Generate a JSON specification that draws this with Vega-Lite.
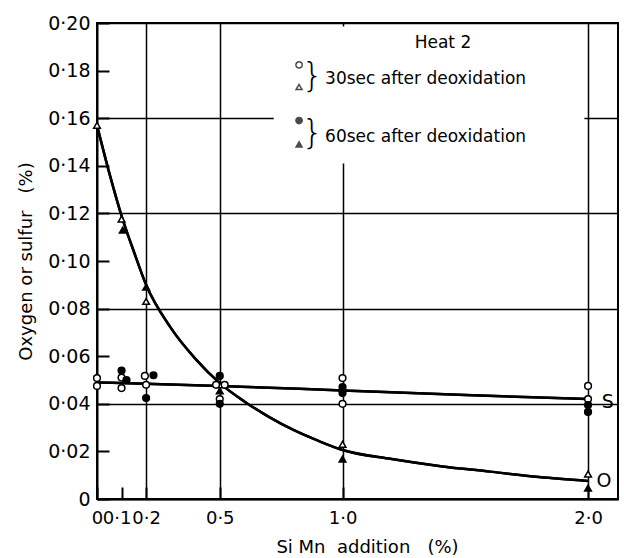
{
  "$schema": "https://vega.github.io/schema/vega-lite/v6.json",
  "width": 521,
  "height": 476,
  "autosize": {"type": "none"},
  "padding": {"left": 97, "top": 23, "right": 6, "bottom": 59},
  "background": "white",
  "config": {
    "font": "DejaVu Sans",
    "view": {"stroke": "black", "strokeWidth": 2},
    "axis": {
      "domainColor": "black", "domainWidth": 2,
      "tickColor": "black", "tickWidth": 2, "tickSize": -12,
      "gridColor": "black", "gridWidth": 1.5,
      "labelColor": "black", "titleColor": "black",
      "titleFontWeight": "normal"
    }
  },
  "datasets": {
    "points": [
      {"x": 0, "value": 0.157, "species": "O", "time": "30 s"},
      {"x": 0.1, "value": 0.1176, "species": "O", "time": "30 s"},
      {"x": 0.2, "value": 0.083, "species": "O", "time": "30 s"},
      {"x": 0.5, "value": 0.048, "species": "O", "time": "30 s"},
      {"x": 1.0, "value": 0.023, "species": "O", "time": "30 s"},
      {"x": 2.0, "value": 0.0105, "species": "O", "time": "30 s"},
      {"x": 0.105, "value": 0.113, "species": "O", "time": "60 s"},
      {"x": 0.2, "value": 0.089, "species": "O", "time": "60 s"},
      {"x": 0.5, "value": 0.0454, "species": "O", "time": "60 s"},
      {"x": 1.0, "value": 0.0168, "species": "O", "time": "60 s"},
      {"x": 2.0, "value": 0.0046, "species": "O", "time": "60 s"},
      {"x": 0, "value": 0.0508, "species": "S", "time": "30 s"},
      {"x": 0, "value": 0.0475, "species": "S", "time": "30 s"},
      {"x": 0.1, "value": 0.051, "species": "S", "time": "30 s"},
      {"x": 0.1, "value": 0.0466, "species": "S", "time": "30 s"},
      {"x": 0.195, "value": 0.0517, "species": "S", "time": "30 s"},
      {"x": 0.2, "value": 0.048, "species": "S", "time": "30 s"},
      {"x": 0.485, "value": 0.048, "species": "S", "time": "30 s"},
      {"x": 0.52, "value": 0.048, "species": "S", "time": "30 s"},
      {"x": 0.5, "value": 0.042, "species": "S", "time": "30 s"},
      {"x": 1.0, "value": 0.0508, "species": "S", "time": "30 s"},
      {"x": 1.0, "value": 0.040, "species": "S", "time": "30 s"},
      {"x": 2.0, "value": 0.0475, "species": "S", "time": "30 s"},
      {"x": 2.0, "value": 0.042, "species": "S", "time": "30 s"},
      {"x": 0.1, "value": 0.054, "species": "S", "time": "60 s"},
      {"x": 0.12, "value": 0.050, "species": "S", "time": "60 s"},
      {"x": 0.23, "value": 0.052, "species": "S", "time": "60 s"},
      {"x": 0.2, "value": 0.0424, "species": "S", "time": "60 s"},
      {"x": 0.5, "value": 0.0517, "species": "S", "time": "60 s"},
      {"x": 0.5, "value": 0.040, "species": "S", "time": "60 s"},
      {"x": 1.0, "value": 0.047, "species": "S", "time": "60 s"},
      {"x": 1.0, "value": 0.0445, "species": "S", "time": "60 s"},
      {"x": 2.0, "value": 0.0395, "species": "S", "time": "60 s"},
      {"x": 2.0, "value": 0.0366, "species": "S", "time": "60 s"}
    ],
    "curves": [
      {"x": 0, "value": 0.157, "curve": "O"},
      {"x": 0.05, "value": 0.137, "curve": "O"},
      {"x": 0.1, "value": 0.119, "curve": "O"},
      {"x": 0.15, "value": 0.104, "curve": "O"},
      {"x": 0.2, "value": 0.090, "curve": "O"},
      {"x": 0.3, "value": 0.072, "curve": "O"},
      {"x": 0.4, "value": 0.059, "curve": "O"},
      {"x": 0.5, "value": 0.0487, "curve": "O"},
      {"x": 0.6, "value": 0.041, "curve": "O"},
      {"x": 0.7, "value": 0.0345, "curve": "O"},
      {"x": 0.8, "value": 0.029, "curve": "O"},
      {"x": 0.9, "value": 0.0245, "curve": "O"},
      {"x": 1.0, "value": 0.0206, "curve": "O"},
      {"x": 1.2, "value": 0.0168, "curve": "O"},
      {"x": 1.4, "value": 0.0138, "curve": "O"},
      {"x": 1.6, "value": 0.0115, "curve": "O"},
      {"x": 1.8, "value": 0.0092, "curve": "O"},
      {"x": 2.0, "value": 0.0076, "curve": "O"},
      {"x": 0, "value": 0.049, "curve": "S"},
      {"x": 0.5, "value": 0.0475, "curve": "S"},
      {"x": 1.0, "value": 0.0456, "curve": "S"},
      {"x": 1.5, "value": 0.0437, "curve": "S"},
      {"x": 2.0, "value": 0.042, "curve": "S"}
    ]
  },
  "layer": [
    {
      "data": {"name": "curves"},
      "mark": {"type": "line", "color": "black", "strokeWidth": 2.5, "interpolate": "monotone"},
      "encoding": {
        "x": {"field": "x", "type": "quantitative",
          "scale": {"domain": [0, 2.122], "nice": false, "zero": false},
          "axis": {
            "values": [0, 0.1, 0.2, 0.5, 1, 2],
            "labelExpr": "datum.value == 0 ? '0' : replace(format(datum.value, '.1f'), '.', '·')",
            "labelFontSize": 18, "labelPadding": 22,
            "labelOverlap": false, "labelFlush": false,
            "labelOffset": {"condition": {"test": "datum.value == 0.1", "value": -5}, "value": 0},
            "grid": true,
            "gridOpacity": {"condition": {"test": "datum.value < 0.15", "value": 0}, "value": 1},
            "title": "Si Mn\u00a0\u00a0addition\u00a0\u00a0\u00a0(%)", "titleFontSize": 18, "titlePadding": 11, "titleX": 270
          }
        },
        "y": {"field": "value", "type": "quantitative",
          "scale": {"domain": [0, 0.2], "nice": false, "zero": false},
          "axis": {
            "values": [0, 0.02, 0.04, 0.06, 0.08, 0.1, 0.12, 0.14, 0.16, 0.18, 0.2],
            "labelExpr": "datum.value == 0 ? '0' : replace(format(datum.value, '.2f'), '.', '·')",
            "labelFontSize": 19, "labelPadding": 19,
            "labelOverlap": false, "labelFlush": false,
            "grid": true,
            "gridOpacity": {"condition": {"test": "abs(datum.value*25 - round(datum.value*25)) > 0.01", "value": 0}, "value": 1},
            "title": "Oxygen or sulfur\u00a0\u00a0\u00a0(%)", "titleFontSize": 18, "titlePadding": 12
          }
        },
        "detail": {"field": "curve"}
      }
    },
    {
      "data": {"values": [{}]},
      "mark": {"type": "rect", "fill": "white"},
      "encoding": {
        "x": {"datum": 0.72, "type": "quantitative"},
        "x2": {"datum": 1.985},
        "y": {"datum": 0.141, "type": "quantitative"},
        "y2": {"datum": 0.1985}
      }
    },
    {
      "data": {"name": "curves"},
      "mark": {"type": "line", "color": "black", "strokeWidth": 2.5, "interpolate": "monotone"},
      "encoding": {
        "x": {"field": "x", "type": "quantitative"},
        "y": {"field": "value", "type": "quantitative"},
        "detail": {"field": "curve"}
      }
    },
    {
      "data": {"name": "points"},
      "mark": {"type": "point", "filled": true, "stroke": "black", "strokeWidth": 1.5, "opacity": 1},
      "encoding": {
        "x": {"field": "x", "type": "quantitative"},
        "y": {"field": "value", "type": "quantitative"},
        "shape": {"field": "species", "type": "nominal", "scale": {"domain": ["O", "S"], "range": ["triangle-up", "circle"]}, "legend": null},
        "fill": {"field": "time", "type": "nominal", "scale": {"domain": ["30 s", "60 s"], "range": ["white", "black"]}, "legend": null},
        "size": {"value": 45}
      }
    },
    {
      "data": {"values": [{}]},
      "mark": {"type": "point", "shape": "circle", "filled": true, "fill": "white", "stroke": "black", "strokeWidth": 1.5, "size": 40},
      "encoding": {"x": {"datum": 0.823, "type": "quantitative"}, "y": {"datum": 0.1824, "type": "quantitative"}}
    },
    {
      "data": {"values": [{}]},
      "mark": {"type": "point", "shape": "triangle-up", "filled": true, "fill": "white", "stroke": "black", "strokeWidth": 1.5, "size": 35},
      "encoding": {"x": {"datum": 0.823, "type": "quantitative"}, "y": {"datum": 0.1731, "type": "quantitative"}}
    },
    {
      "data": {"values": [{}]},
      "mark": {"type": "point", "shape": "circle", "filled": true, "fill": "black", "stroke": "black", "strokeWidth": 1.5, "size": 40},
      "encoding": {"x": {"datum": 0.823, "type": "quantitative"}, "y": {"datum": 0.159, "type": "quantitative"}}
    },
    {
      "data": {"values": [{}]},
      "mark": {"type": "point", "shape": "triangle-up", "filled": true, "fill": "black", "stroke": "black", "strokeWidth": 1.5, "size": 35},
      "encoding": {"x": {"datum": 0.823, "type": "quantitative"}, "y": {"datum": 0.149, "type": "quantitative"}}
    },
    {
      "data": {"values": [{"t": "Heat 2"}]},
      "mark": {"type": "text", "fontSize": 17, "align": "center", "baseline": "middle", "color": "black"},
      "encoding": {"x": {"datum": 1.409, "type": "quantitative"}, "y": {"datum": 0.1916, "type": "quantitative"}, "text": {"field": "t"}}
    },
    {
      "data": {"values": [{"t": "30sec after deoxidation"}]},
      "mark": {"type": "text", "fontSize": 17, "align": "left", "baseline": "middle", "color": "black"},
      "encoding": {"x": {"datum": 0.929, "type": "quantitative"}, "y": {"datum": 0.1763, "type": "quantitative"}, "text": {"field": "t"}}
    },
    {
      "data": {"values": [{"t": "60sec after deoxidation"}]},
      "mark": {"type": "text", "fontSize": 17, "align": "left", "baseline": "middle", "color": "black"},
      "encoding": {"x": {"datum": 0.929, "type": "quantitative"}, "y": {"datum": 0.152, "type": "quantitative"}, "text": {"field": "t"}}
    },
    {
      "data": {"values": [{"t": "}"}]},
      "mark": {"type": "text", "fontSize": 34, "fontWeight": 300, "align": "center", "baseline": "middle", "color": "black"},
      "encoding": {"x": {"datum": 0.878, "type": "quantitative"}, "y": {"datum": 0.1775, "type": "quantitative"}, "text": {"field": "t"}}
    },
    {
      "data": {"values": [{"t": "}"}]},
      "mark": {"type": "text", "fontSize": 34, "fontWeight": 300, "align": "center", "baseline": "middle", "color": "black"},
      "encoding": {"x": {"datum": 0.878, "type": "quantitative"}, "y": {"datum": 0.1535, "type": "quantitative"}, "text": {"field": "t"}}
    },
    {
      "data": {"values": [{"t": "S"}]},
      "mark": {"type": "text", "fontSize": 19, "align": "center", "baseline": "middle", "color": "black"},
      "encoding": {"x": {"datum": 2.08, "type": "quantitative"}, "y": {"datum": 0.0408, "type": "quantitative"}, "text": {"field": "t"}}
    },
    {
      "data": {"values": [{"t": "O"}]},
      "mark": {"type": "text", "fontSize": 19, "align": "center", "baseline": "middle", "color": "black"},
      "encoding": {"x": {"datum": 2.065, "type": "quantitative"}, "y": {"datum": 0.0076, "type": "quantitative"}, "text": {"field": "t"}}
    }
  ]
}
